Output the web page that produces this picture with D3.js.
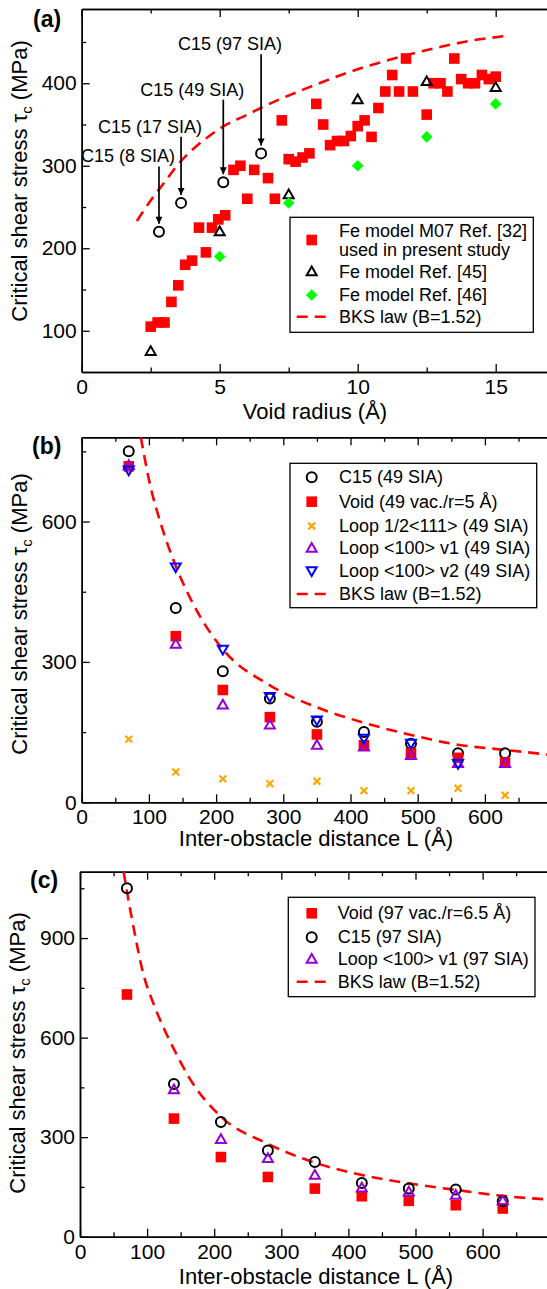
<!DOCTYPE html>
<html>
<head>
<meta charset="utf-8">
<title>Critical shear stress of C15, voids and loops</title>
<style>
  html, body { margin: 0; padding: 0; background: #fff; }
  svg { display: block; }
</style>
<script src="https://d3js.org/d3.v7.min.js"></script>
</head>
<body>
<svg id="chart" width="547" height="1289"></svg>
<script>
// ---------- panel (a): stress vs void radius ----------
const voidM07 = [
  [2.5,105],[2.75,110],[3.0,110],[3.25,135],[3.5,155],[3.75,180],[4.0,185],[4.25,225],
  [4.5,195],[4.72,225],[4.95,235],[5.2,240],[5.5,295],[5.75,300],[6.0,260],[6.25,295],
  [6.75,285],[7.0,260],[7.25,355],[7.5,308],[7.75,305],[8.0,310],[8.25,315],[8.5,375],
  [8.75,350],[9.0,325],[9.25,330],[9.5,330],[9.75,336],[10.0,348],[10.25,355],[10.5,335],
  [10.75,370],[11.0,390],[11.25,410],[11.5,390],[11.75,430],[12.0,390],[12.5,362],[12.75,400],
  [13.0,400],[13.25,390],[13.5,430],[13.75,405],[14.0,400],[14.25,400],[14.5,410],[14.75,405],
  [15.0,408]
];
const ref45 = [[2.5,75],[5.0,220],[7.5,265],[10.0,380],[12.5,402],[15.0,395]];
const ref46 = [[5.0,190],[7.5,255],[10.0,300],[12.5,335],[15.0,375]];
const c15Radius = [[2.8,220],[3.6,255],[5.13,280],[6.5,315]];
const c15Labels = ["C15 (8 SIA)", "C15 (17 SIA)", "C15 (49 SIA)", "C15 (97 SIA)"];
const c15LabelTau = [304, 340, 385, 440];
const bksA = [
  [2.0,233],[2.5,258],[3.0,280],[3.5,302],[4.0,319],[4.5,333],[5.0,345],[6.0,362],
  [7.0,378],[8.0,392],[9.0,405],[10,417],[11,427],[12,436],[13,444],[14,451],[15.3,457]
];

// ---------- panel (b): 49 defect objects ----------
const spacing = [70, 140, 210, 280, 350, 420, 490, 560, 630];
const c15_49     = [750, 415, 280, 222, 172, 150, 125, 105, 105];
const void49     = [718, 355, 240, 182, 145, 122, 105, 95, 85];
const loop111_49 = [135, 65, 50, 40, 45, 25, 25, 30, 15];
const loopV1_49  = [720, 338, 208, 165, 122, 118, 100, 83, 83];
const loopV2_49  = [710, 503, 327, 226, 176, 137, 126, 83];
const bksB = [
  [88,780],[100,690],[120,585],[140,505],[175,400],[210,327],[280,250],[350,203],
  [420,170],[490,144],[560,123],[630,112],[700,101]
];

// ---------- panel (c): 97 defect objects ----------
const void97    = [730, 356, 240, 180, 145, 122, 108, 95, 85];
const c15_97    = [1050, 460, 346, 260, 225, 162, 145, 142, 107];
const spacingV1 = [140, 210, 280, 350, 420, 490, 560, 630];
const loopV1_97 = [443, 293, 236, 185, 147, 135, 125, 108];
const bksC = [
  [65,1100],[70,1040],[80,930],[94,795],[110,700],[124,632],[140,565],[164,475],
  [210,362],[280,280],[350,223],[420,186],[490,161],[560,141],[630,123],[700,112]
];

const FONT = "'Liberation Sans', Arial, Helvetica, sans-serif";
const RED = "#ff0000", GREEN = "#00ff00", ORANGE = "#ffa500", PURPLE = "#9400d3", BLUE = "#0000ff";

const svg = d3.select("#chart").attr("font-family", FONT);

svg.append("defs").append("marker")
  .attr("id", "arrow")
  .attr("viewBox", "0 0 10 10")
  .attr("refX", 10).attr("refY", 5)
  .attr("markerUnits", "userSpaceOnUse")
  .attr("markerWidth", 9).attr("markerHeight", 7)
  .attr("orient", "auto")
  .append("path").attr("d", "M0,0 L10,5 L0,10 z").attr("fill", "#000");

// draw one marker symbol at (cx, cy)
function symbol(g, type, cx, cy) {
  const s = g.append("g").attr("transform", `translate(${cx},${cy})`);
  if (type === "square") {
    s.append("rect").attr("x", -5.3).attr("y", -5.3).attr("width", 10.6).attr("height", 10.6).attr("fill", RED);
  } else if (type === "circle") {
    s.append("circle").attr("r", 5).attr("fill", "none").attr("stroke", "#000").attr("stroke-width", 2);
  } else if (type === "diamond") {
    s.append("path").attr("d", "M0,-5.8L5.8,0L0,5.8L-5.8,0Z").attr("fill", GREEN);
  } else if (type === "cross") {
    s.append("path").attr("d", "M-3.4,-3.4L3.4,3.4M-3.4,3.4L3.4,-3.4")
      .attr("stroke", ORANGE).attr("stroke-width", 2.2);
  } else if (type.startsWith("tri")) {
    const col = type === "triBlack" ? "#000" : type === "triPurple" ? PURPLE : BLUE;
    const d = type === "triBlue" ? "M0,5.2L5,-3.5L-5,-3.5Z" : "M0,-5.2L5,3.5L-5,3.5Z";
    s.append("path").attr("d", d).attr("fill", "none").attr("stroke", col).attr("stroke-width", 2);
  }
}

function panel(cfg) {
  const g = svg.append("g");
  const x = d3.scaleLinear().domain(cfg.xDomain).range(cfg.xRange);
  const y = d3.scaleLinear().domain(cfg.yDomain).range(cfg.yRange);
  const [left, right] = cfg.xRange, [bottom, top] = cfg.yRange;

  const styleAxis = (a, labels) => {
    a.attr("font-family", FONT).attr("font-size", 21);
    a.selectAll("line").attr("stroke-width", 1.3);
    a.select(".domain").attr("stroke-width", 1.5);
    if (!labels) a.selectAll("text").remove();
  };

  // bottom + top axes
  styleAxis(g.append("g").attr("transform", `translate(0,${bottom})`)
    .call(d3.axisBottom(x).tickValues(cfg.xMajor).tickSize(-8).tickSizeOuter(0).tickPadding(7)), true);
  styleAxis(g.append("g").attr("transform", `translate(0,${bottom})`)
    .call(d3.axisBottom(x).tickValues(cfg.xMinor).tickSize(-4.5).tickSizeOuter(0).tickFormat("")), false);
  styleAxis(g.append("g").attr("transform", `translate(0,${top})`)
    .call(d3.axisTop(x).tickValues(cfg.xMajor).tickSize(-8).tickSizeOuter(0).tickFormat("")), false);
  styleAxis(g.append("g").attr("transform", `translate(0,${top})`)
    .call(d3.axisTop(x).tickValues(cfg.xMinor).tickSize(-4.5).tickSizeOuter(0).tickFormat("")), false);
  // left axis
  styleAxis(g.append("g").attr("transform", `translate(${left},0)`)
    .call(d3.axisLeft(y).tickValues(cfg.yMajor).tickSize(-8).tickSizeOuter(0).tickPadding(5)), true);
  styleAxis(g.append("g").attr("transform", `translate(${left},0)`)
    .call(d3.axisLeft(y).tickValues(cfg.yMinor).tickSize(-4.5).tickSizeOuter(0).tickFormat("")), false);

  // titles
  g.append("text").attr("x", cfg.xTitlePos[0]).attr("y", cfg.xTitlePos[1])
    .attr("text-anchor", "middle").attr("font-size", 22).text(cfg.xTitle);
  const yt = g.append("text")
    .attr("transform", `translate(${cfg.yTitlePos[0]},${cfg.yTitlePos[1]}) rotate(-90)`)
    .attr("text-anchor", "middle").attr("font-size", cfg.yTitleSize);
  yt.append("tspan").text("Critical shear stress \u03c4");
  yt.append("tspan").attr("font-size", cfg.yTitleSize * 0.68).attr("dy", 5).text("c");
  yt.append("tspan").attr("dy", -5).text(" (MPa)");

  g.append("text").attr("x", cfg.tagPos[0]).attr("y", cfg.tagPos[1])
    .attr("font-size", 23).attr("font-weight", "bold").text(cfg.tag);

  // plot area clip
  const clipId = "clip" + cfg.tag.replace(/\W/g, "");
  svg.select("defs").append("clipPath").attr("id", clipId)
    .append("rect").attr("x", left).attr("y", top).attr("width", right - left).attr("height", bottom - top);
  const plot = g.append("g").attr("clip-path", `url(#${clipId})`);

  const line = d3.line().x(d => x(d[0])).y(d => y(d[1])).curve(d3.curveMonotoneX);
  plot.append("path").datum(cfg.bks).attr("d", line)
    .attr("fill", "none").attr("stroke", RED).attr("stroke-width", 2.6).attr("stroke-dasharray", "11,7");

  cfg.series.forEach(s => {
    s.points.forEach(p => symbol(plot, s.type, x(p[0]), y(p[1])));
  });

  // legend
  const lg = g.append("g");
  lg.append("rect").attr("x", cfg.legendBox[0]).attr("y", cfg.legendBox[1])
    .attr("width", cfg.legendBox[2]).attr("height", cfg.legendBox[3])
    .attr("fill", "#fff").attr("stroke", "#000").attr("stroke-width", 1.3);
  cfg.legend.forEach((e, i) => {
    const cy = cfg.legendRows[i];
    if (e.type === "dash") {
      lg.append("line").attr("x1", 296.7).attr("x2", 327).attr("y1", cy).attr("y2", cy)
        .attr("stroke", RED).attr("stroke-width", 2.6).attr("stroke-dasharray", "11,7");
    } else {
      symbol(lg, e.type, 311.7, cy);
    }
    const lines = e.label.split("\n");
    lines.forEach((t, k) => {
      lg.append("text").attr("x", cfg.legendTextX)
        .attr("y", cy + 6 + (lines.length > 1 ? (k - 0.5) * 19 : 0))
        .attr("font-size", 18).text(t);
    });
  });

  return { g, x, y };
}

// panel (a)
const pa = panel({
  tag: "(a)", tagPos: [33, 27],
  xDomain: [0, 17.5], xRange: [81.7, 81.7 + 27.6 * 17.5],
  yDomain: [50, 490], yRange: [372, 9],
  xMajor: [0, 5, 10, 15], xMinor: [2.5, 7.5, 12.5],
  yMajor: [100, 200, 300, 400], yMinor: [150, 250, 350, 450],
  xTitle: "Void radius (\u00c5)", xTitlePos: [315, 419],
  yTitlePos: [27, 181], yTitleSize: 22,
  bks: bksA,
  series: [
    { type: "square", points: voidM07 },
    { type: "triBlack", points: ref45 },
    { type: "diamond", points: ref46 },
    { type: "circle", points: c15Radius }
  ],
  legendBox: [290, 217.3, 243.3, 115], legendTextX: 339,
  legendRows: [240, 271.7, 295, 316.7],
  legend: [
    { type: "square", label: "Fe model M07 Ref. [32]\nused in present study" },
    { type: "triBlack", label: "Fe model Ref. [45]" },
    { type: "diamond", label: "Fe model Ref. [46]" },
    { type: "dash", label: "BKS law (B=1.52)" }
  ]
});

// C15 annotations with arrows
c15Radius.forEach((p, i) => {
  const ax = pa.x(p[0]);
  const yLab = pa.y(c15LabelTau[i]);
  pa.g.append("text").attr("x", ax - 31).attr("y", yLab)
    .attr("text-anchor", "middle").attr("font-size", 18).text(c15Labels[i]);
  pa.g.append("line").attr("x1", ax).attr("x2", ax)
    .attr("y1", yLab + 4).attr("y2", pa.y(p[1]) - 8)
    .attr("stroke", "#000").attr("stroke-width", 1.7).attr("marker-end", "url(#arrow)");
});

// panel (b)
const zip = (xs, ys) => ys.map((v, i) => [xs[i], v]);
panel({
  tag: "(b)", tagPos: [32, 454],
  xDomain: [0, 700], xRange: [81.7, 81.7 + 0.672 * 700],
  yDomain: [0, 780], yRange: [802.3, 437.3],
  xMajor: [0, 100, 200, 300, 400, 500, 600], xMinor: [50, 150, 250, 350, 450, 550, 650],
  yMajor: [0, 300, 600], yMinor: [150, 450, 750],
  xTitle: "Inter-obstacle distance L (\u00c5)", xTitlePos: [316, 846],
  yTitlePos: [27, 614], yTitleSize: 22,
  bks: bksB,
  series: [
    { type: "circle", points: zip(spacing, c15_49) },
    { type: "square", points: zip(spacing, void49) },
    { type: "cross", points: zip(spacing, loop111_49) },
    { type: "triPurple", points: zip(spacing, loopV1_49) },
    { type: "triBlue", points: zip(spacing, loopV2_49) }
  ],
  legendBox: [290, 463.3, 246.7, 144.4], legendTextX: 339,
  legendRows: [477.3, 501.7, 526, 548.3, 570.7, 594],
  legend: [
    { type: "circle", label: "C15 (49 SIA)" },
    { type: "square", label: "Void (49 vac./r=5 \u00c5)" },
    { type: "cross", label: "Loop 1/2<111> (49 SIA)" },
    { type: "triPurple", label: "Loop <100> v1 (49 SIA)" },
    { type: "triBlue", label: "Loop <100> v2 (49 SIA)" },
    { type: "dash", label: "BKS law (B=1.52)" }
  ]
});

// panel (c)
panel({
  tag: "(c)", tagPos: [30, 888],
  xDomain: [0, 700], xRange: [80, 80 + 0.671 * 700],
  yDomain: [0, 1100], yRange: [1236.7, 871.7],
  xMajor: [0, 100, 200, 300, 400, 500, 600], xMinor: [50, 150, 250, 350, 450, 550, 650],
  yMajor: [0, 300, 600, 900], yMinor: [150, 450, 750, 1050],
  xTitle: "Inter-obstacle distance L (\u00c5)", xTitlePos: [316, 1284],
  yTitlePos: [25, 1053], yTitleSize: 22,
  bks: bksC,
  series: [
    { type: "square", points: zip(spacing, void97) },
    { type: "circle", points: zip(spacing, c15_97) },
    { type: "triPurple", points: zip(spacingV1, loopV1_97) }
  ],
  legendBox: [288.3, 897.3, 246.7, 99.4], legendTextX: 337.7,
  legendRows: [913.3, 937.3, 959.3, 981.7],
  legend: [
    { type: "square", label: "Void (97 vac./r=6.5 \u00c5)" },
    { type: "circle", label: "C15 (97 SIA)" },
    { type: "triPurple", label: "Loop <100> v1 (97 SIA)" },
    { type: "dash", label: "BKS law (B=1.52)" }
  ]
});
</script>
</body>
</html>
